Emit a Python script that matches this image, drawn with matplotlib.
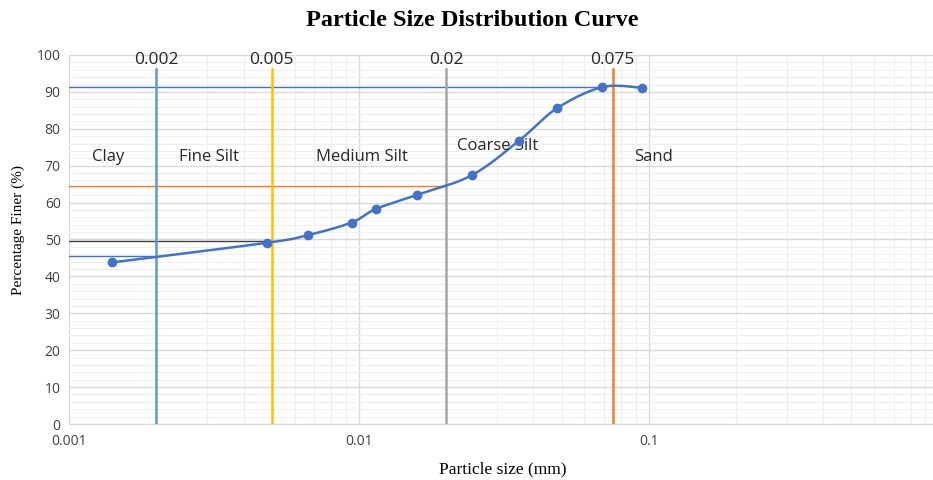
import numpy as np
import matplotlib
matplotlib.use("Agg")
import matplotlib.pyplot as plt
from matplotlib.ticker import LogLocator, MultipleLocator, NullFormatter

# sieve / hydrometer results
size_mm = [0.00141, 0.00481, 0.00668, 0.00944, 0.01146, 0.01589, 0.0245, 0.0357, 0.0483, 0.0692, 0.0951]
finer = [43.8, 49.1, 51.2, 54.6, 58.3, 62.1, 67.4, 76.8, 85.6, 91.3, 91.1]

# class boundaries
bound_x = [0.002, 0.005, 0.02, 0.075]
bound_lbl = ["0.002", "0.005", "0.02", "0.075"]
bound_col = ["#5B9BD5", "#FFC000", "#A5A5A5", "#ED7D31"]

# horizontal reading lines (y value, end x, colour)
hline_y = [91.4, 64.6, 49.7, 45.5]
hline_end = [0.0692, 0.02, 0.005, 0.002]
hline_col = ["#4472C4", "#ED7D31", "#404040", "#4472C4"]

classes = ["Clay", "Fine Silt", "Medium Silt", "Coarse Silt", "Sand"]
class_x = [0.00136, 0.00303, 0.01026, 0.0300, 0.1036]
class_y = [72.4, 72.4, 72.3, 75.3, 72.4]


def smooth(xs, ys, n=30):
    # catmull-rom through points, done in log-x space (like excel smoothed line)
    lx = np.log10(xs)
    ys = np.asarray(ys, float)
    P = np.column_stack([lx, ys])
    P = np.vstack([P[0], P, P[-1]])
    out = []
    for i in range(1, len(P) - 2):
        p0, p1, p2, p3 = P[i - 1], P[i], P[i + 1], P[i + 2]
        t = np.linspace(0, 1, n)[:, None]
        c = 0.5 * ((2 * p1) + (-p0 + p2) * t + (2 * p0 - 5 * p1 + 4 * p2 - p3) * t ** 2
                   + (-p0 + 3 * p1 - 3 * p2 + p3) * t ** 3)
        out.append(c)
    c = np.vstack(out)
    return 10 ** c[:, 0], c[:, 1]


fig = plt.figure(figsize=(9.33, 4.8), dpi=100)
ax = fig.add_axes([69 / 933, 1 - 424 / 480, (938.7 - 69) / 933, (424 - 55) / 480])

ax.set_xscale("log")
ax.set_xlim(0.001, 1)
ax.set_ylim(0, 100)

ax.xaxis.set_major_locator(LogLocator(base=10, numticks=10))
ax.xaxis.set_minor_locator(LogLocator(base=10, subs=np.arange(2, 10), numticks=20))
ax.xaxis.set_minor_formatter(NullFormatter())
ax.yaxis.set_major_locator(MultipleLocator(10))
ax.yaxis.set_minor_locator(MultipleLocator(2))

ax.grid(which="major", color="#D9D9D9", lw=1.0)
ax.grid(which="minor", color="#EFEFEF", lw=0.8)
ax.set_axisbelow(True)

for s in ["top", "right", "left"]:
    ax.spines[s].set_visible(False)
ax.spines["bottom"].set_color("#D9D9D9")

ax.tick_params(which="both", length=0, colors="#404040", labelsize=10)
ax.tick_params(axis="x", pad=7)
ax.tick_params(axis="y", pad=6)
ax.set_xticks([0.001, 0.01, 0.1])
ax.set_xticklabels(["0.001", "0.01", "0.1"], fontfamily="Open Sans")
for lb in ax.get_yticklabels():
    lb.set_fontfamily("Open Sans")

for yv, xe, c in zip(hline_y, hline_end, hline_col):
    ax.plot([0.001, xe], [yv, yv], color=c, lw=1.0, zorder=2)

for xv, lbl, c in zip(bound_x, bound_lbl, bound_col):
    ax.plot([xv, xv], [0, 96.1], color=c, lw=1.8, zorder=2)
    ax.text(xv, 96.6, lbl, ha="center", va="bottom", fontsize=12.5, color="#262626",
            fontfamily="Open Sans")

sx, sy = smooth(size_mm, finer)
ax.plot(sx, sy, color="#4472C4", lw=1.8, zorder=3)
ax.plot(size_mm, finer, "o", color="#4472C4", ms=6, zorder=4)

for t, xv, yv in zip(classes, class_x, class_y):
    ax.text(xv, yv, t, ha="center", va="center", fontsize=12, color="#262626",
            fontfamily="Open Sans")

fig.text(472 / 933, 1 - 20 / 480, "Particle Size Distribution Curve", ha="center", va="center",
         fontsize=17.5, fontweight="bold", fontfamily="Liberation Serif")
fig.text(503 / 933, 1 - 469 / 480, "Particle size (mm)", ha="center", va="center",
         fontsize=12.5, fontfamily="Liberation Serif")
fig.text(18 / 933, 1 - 230 / 480, "Percentage Finer (%)", ha="center", va="center",
         rotation=90, fontsize=11, fontfamily="Liberation Serif")

fig.savefig("out.png", dpi=100)
